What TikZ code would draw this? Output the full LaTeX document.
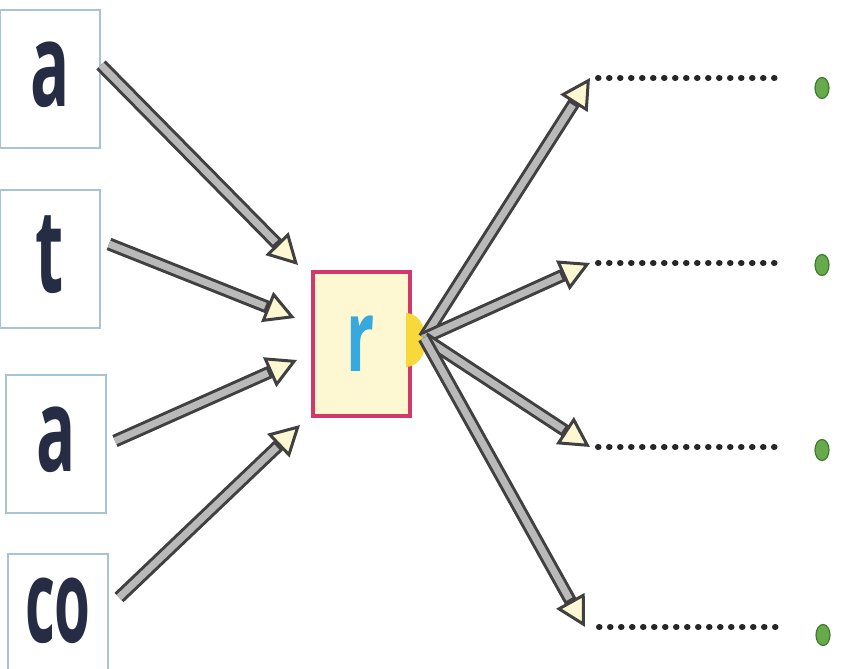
\documentclass[tikz,border=0pt]{standalone}
\usepackage{fontspec}
\newfontfamily\glyphfont{Open Sans}
\usetikzlibrary{arrows.meta, positioning, shapes.geometric}

\definecolor{boxedge}{HTML}{A9C3D6}
\definecolor{inkblue}{HTML}{252C44}
\definecolor{hubred}{HTML}{D2386A}
\definecolor{hubfill}{HTML}{FDF8D2}
\definecolor{hubcyan}{HTML}{37A9DF}
\definecolor{joint}{HTML}{F7D93C}
\definecolor{leaf}{HTML}{66AA4C}
\definecolor{leafedge}{HTML}{3E7A2E}

\begin{document}
\begin{tikzpicture}[
        x=1pt, y=1pt,
        node distance=40pt,
        letterbox/.style={rectangle, draw=boxedge, line width=2pt, fill=white, minimum width=100pt, minimum height=138pt, text depth=10pt, text=inkblue, font=\glyphfont\bfseries\fontsize{116pt}{116pt}\selectfont},
        hubbox/.style={rectangle, draw=hubred, line width=4pt, fill=hubfill, minimum width=97pt, minimum height=144pt, text=hubcyan, font=\glyphfont\bfseries\fontsize{100pt}{100pt}\selectfont},
        leafdot/.style={ellipse, draw=leafedge, line width=1.2pt, fill=leaf, minimum width=14pt, minimum height=21pt, inner sep=0pt},
        flow/.style={draw=black!75, line width=13pt, -{Triangle[length=30pt, width=32pt, fill=hubfill, line width=3pt 0 0]}, postaction={draw=gray!55, line width=7pt, -, shorten >=32pt}},
        dotline/.style={draw=black!85, line width=6pt, line cap=round, dash pattern=on 0.5pt off 10.5pt}
    ]
    \useasboundingbox (0,0) rectangle (851,669);

    % Letters on the left
    \node [letterbox] at (50,590) (a1) {\scalebox{0.56}[1]{a}};
    \node [letterbox, below=40pt of a1] (t) {\scalebox{0.56}[1]{t}};
    \node [letterbox, below=45pt of t, xshift=6pt] (a2) {\scalebox{0.56}[1]{a}};
    \node [letterbox, below=39pt of a2, xshift=2pt, minimum height=123pt] (co) {\scalebox{0.5}[1]{co}};

    % Central box
    \node [hubbox] at (361,325) (r) {\scalebox{0.62}[1]{r}};
    \fill [joint] (406,302) arc[start angle=-90, end angle=90, x radius=20, y radius=27];
    \coordinate (hub) at (424,331);

    % Green dots on the right
    \node [leafdot] at (822,581) (g1) {};
    \node [leafdot] at (822,404) (g2) {};
    \node [leafdot] at (822,219) (g3) {};
    \node [leafdot] at (823,34) (g4) {};

    % Arrow ends
    \coordinate (in1) at (298,404);
    \coordinate (in2) at (295,351);
    \coordinate (in3) at (297,309);
    \coordinate (in4) at (300,244);
    \coordinate (o1) at (590,591);
    \coordinate (o2) at (590,406);
    \coordinate (o3) at (590,222);
    \coordinate (o4) at (585,42);

    % Connecting Lines
    \draw [flow] ([yshift=14pt]a1.east) -- (in1);
    \draw [flow] ([shift={(8,15)}]t.east) -- (in2);
    \draw [flow] ([shift={(8,3)}]a2.east) -- (in3);
    \draw [flow] ([shift={(10,18)}]co.east) -- (in4);

    \draw [flow] (hub) -- (o1);
    \draw [flow] (hub) -- (o2);
    \draw [flow] (hub) -- (o3);
    \draw [flow] (hub) -- (o4);

    \draw [dotline] ([xshift=8pt]o1) -- ([xshift=-36pt]o1 -| g1.west);
    \draw [dotline] ([xshift=8pt]o2) -- ([xshift=-36pt]o2 -| g2.west);
    \draw [dotline] ([xshift=8pt]o3) -- ([xshift=-36pt]o3 -| g3.west);
    \draw [dotline] ([xshift=14pt]o4) -- ([xshift=-36pt]o4 -| g4.west);

\end{tikzpicture}
\end{document}
